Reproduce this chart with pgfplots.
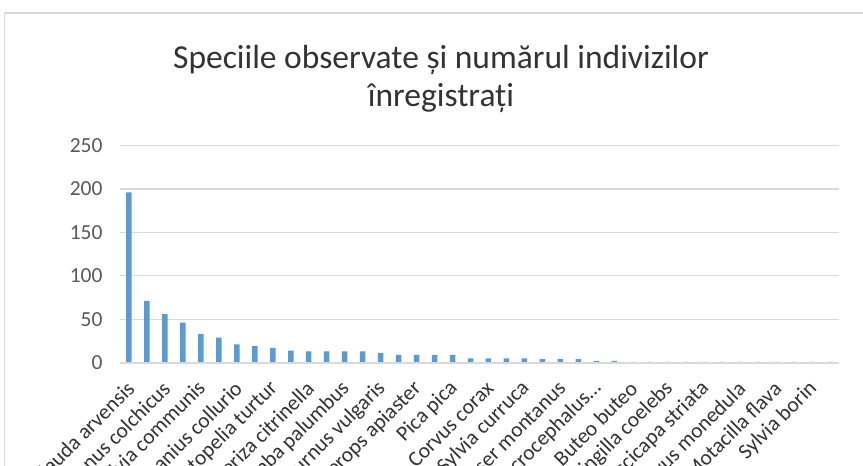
\documentclass[border=0pt]{standalone}
\usepackage{fontspec}
\setmainfont{Carlito}
\usepackage{pgfplots}
\pgfplotsset{compat=1.18}
\definecolor{barblue}{HTML}{5B9BD5}
\definecolor{gridgray}{HTML}{D9D9D9}
\definecolor{ticktext}{HTML}{595959}
\definecolor{labtext}{HTML}{333333}

\begin{document}
\begin{tikzpicture}[x=1pt,y=1pt]
\begin{scope}
\clip (0,0) rectangle (863,466);
\fill[white] (0,0) rectangle (863,466);
\draw[gridgray,line width=1.2pt] (4.5,-20) rectangle (880,453);
\node[labtext,font=\fontsize{33.5}{38}\selectfont,anchor=base] at (441,397)
  {Speciile observate și numărul indivizilor};
\node[labtext,font=\fontsize{33.5}{38}\selectfont,anchor=base] at (441,359)
  {înregistrați};
\begin{axis}[
  at={(120pt,103.3pt)},anchor=south west,scale only axis,
  width=719pt,height=217.2pt,
  xmin=-0.5,xmax=39.5,ymin=0,ymax=250,
  ytick={0,50,...,250},
  xtick={0,2,...,38},
  xticklabels={Alauda arvensis,Phasianus colchicus,Sylvia communis,Lanius collurio,
    Streptopelia turtur,Emberiza citrinella,Columba palumbus,Sturnus vulgaris,
    Merops apiaster,Pica pica,Corvus corax,Sylvia curruca,Passer montanus,
    {Acrocephalus…},Buteo buteo,Fringilla coelebs,Muscicapa striata,
    Corvus monedula,Motacilla flava,Sylvia borin},
  axis lines*=left,
  y axis line style={draw=none},
  x axis line style={draw=none},
  tick style={draw=none},
  ymajorgrids,
  grid style={gridgray,line width=1.2pt},
  yticklabel style={font=\fontsize{21.5}{26}\selectfont,color=ticktext,xshift=-14pt},
  xticklabel style={font=\fontsize{21.5}{26}\selectfont,color=labtext,xshift=4pt,yshift=-20pt,rotate=45,anchor=east},
  /pgf/number format/assume math mode=true,
  clip=false,
]
\addplot[ybar,bar width=5.5pt,fill=barblue,draw=none] coordinates {
  (0,196) (1,71) (2,56) (3,46) (4,33) (5,29) (6,21) (7,19) (8,17) (9,14)
  (10,13) (11,13) (12,13) (13,13) (14,11) (15,9) (16,9) (17,9) (18,9) (19,5)
  (20,5) (21,5) (22,5) (23,4) (24,4) (25,4) (26,2) (27,2) (28,1) (29,1)
  (30,1) (31,1) (32,1) (33,1) (34,1) (35,1) (36,1) (37,1) (38,1) (39,1)
};
\draw[gridgray,line width=1.6pt] (axis cs:-0.5,0) -- (axis cs:39.5,0);
\end{axis}
\end{scope}
\pgfresetboundingbox
\useasboundingbox (0,0) rectangle (863,466);
\end{tikzpicture}
\end{document}
